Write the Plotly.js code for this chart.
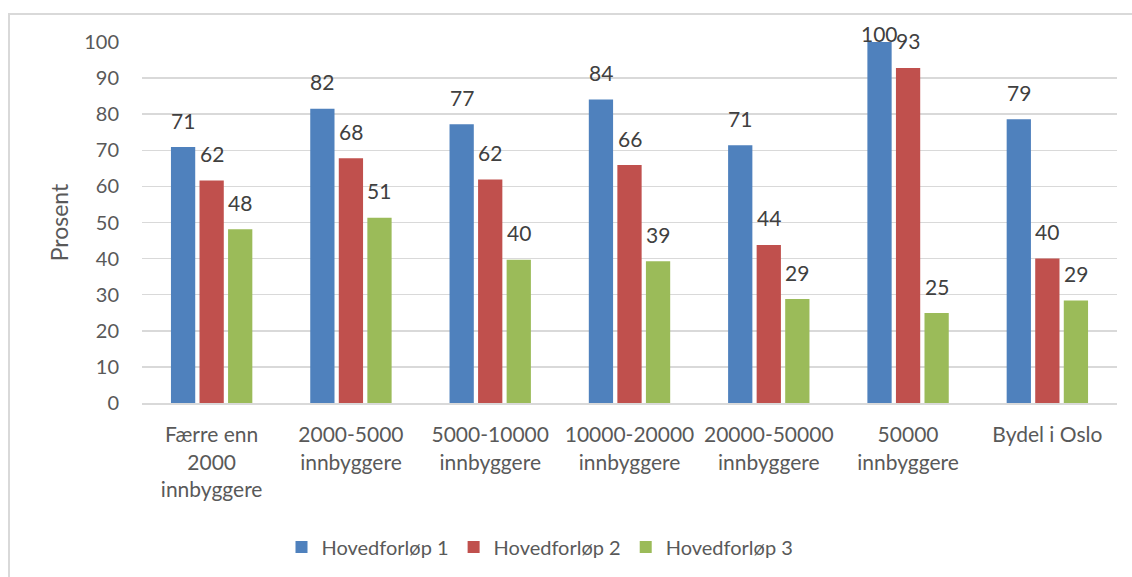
<!DOCTYPE html>
<html>
<head>
<meta charset="utf-8">
<script src="https://cdn.plot.ly/plotly-3.0.1.min.js"></script>
<style>
  html, body { margin: 0; padding: 0; background: #fff; }
  #chart { width: 1132px; height: 577px; }
  #frame {
    position: absolute; left: 8px; top: 13px; width: 1200px; height: 700px;
    border-left: 2px solid #d9d9d9; border-top: 2px solid #d9d9d9;
    pointer-events: none;
  }
</style>
</head>
<body>
<div id="chart"></div>
<div id="frame"></div>
<script>
const categories = [
  "Færre enn<br>2000<br>innbyggere",
  "2000-5000<br>innbyggere",
  "5000-10000<br>innbyggere",
  "10000-20000<br>innbyggere",
  "20000-50000<br>innbyggere",
  "50000<br>innbyggere",
  "Bydel i Oslo"
];
const seriesNames = ["Hovedforløp 1", "Hovedforløp 2", "Hovedforløp 3"];
const hoved1 = [70.9, 81.5, 77.2, 84.1, 71.4, 100, 78.6];
const hoved2 = [61.6, 67.8, 61.9, 65.9, 43.8, 92.8, 40.0];
const hoved3 = [48.1, 51.3, 39.7, 39.3, 28.8, 24.9, 28.4];
const labels1 = ["71", "82", "77", "84", "71", "100", "79"];
const labels2 = ["62", "68", "62", "66", "44", "93", "40"];
const labels3 = ["48", "51", "40", "39", "29", "25", "29"];

const COLORS = ["#4f81bd", "#c0504d", "#9bbb59"];
const FONT = "Lato, 'Open Sans', sans-serif";
const TEXT_GREY = "#595959";

const margin = { l: 142, r: 15, t: 42, b: 174, autoexpand: false };
const plotW = 1132 - margin.l - margin.r;
const plotH = 577 - margin.t - margin.b;
const bargap = 0.385;
const slot = (plotW / categories.length) * (1 - bargap) / 3;
const pxPerUnit = plotH / 100;

const values = [hoved1, hoved2, hoved3];
const labels = [labels1, labels2, labels3];

const traces = values.map((vals, i) => ({
  type: "bar",
  name: seriesNames[i],
  x: categories,
  y: vals,
  marker: { color: COLORS[i] },
  hoverinfo: "skip"
}));

// data labels sit a fixed distance above each bar, squeezed at the top edge
const annotations = [];
values.forEach((vals, i) => {
  vals.forEach((v, c) => {
    annotations.push({
      x: categories[c],
      y: v,
      xref: "x",
      yref: "y",
      text: labels[i][c],
      showarrow: false,
      xshift: (i - 1) * slot,
      yshift: Math.min(27, (100 - v) * pxPerUnit + 9),
      yanchor: "middle",
      font: { family: FONT, size: 21, color: "#404040" }
    });
  });
});

const layout = {
  width: 1132,
  height: 577,
  margin: margin,
  paper_bgcolor: "#ffffff",
  plot_bgcolor: "#ffffff",
  font: { family: FONT, color: TEXT_GREY },
  barmode: "group",
  bargap: bargap,
  bargroupgap: 0.15,
  showlegend: true,
  legend: {
    orientation: "h",
    x: (540 - margin.l) / plotW,
    xanchor: "center",
    y: -0.345,
    yanchor: "top",
    font: { family: FONT, size: 20, color: TEXT_GREY },
    itemclick: false
  },
  xaxis: {
    type: "category",
    tickangle: 0,
    showline: true,
    linecolor: "#d9d9d9",
    linewidth: 2,
    ticks: "",
    tickfont: { family: FONT, size: 21, color: TEXT_GREY },
    ticklabelstandoff: 12
  },
  yaxis: {
    range: [0, 100],
    dtick: 10,
    showgrid: true,
    gridcolor: "#d9d9d9",
    gridwidth: 1.5,
    zeroline: false,
    ticks: "",
    tickfont: { family: FONT, size: 20, color: TEXT_GREY },
    ticklabelstandoff: 22,
    title: { text: "Prosent", font: { family: FONT, size: 23, color: TEXT_GREY }, standoff: 9 }
  },
  annotations: annotations
};

Plotly.newPlot("chart", traces, layout, { displayModeBar: false, staticPlot: true });
</script>
</body>
</html>
